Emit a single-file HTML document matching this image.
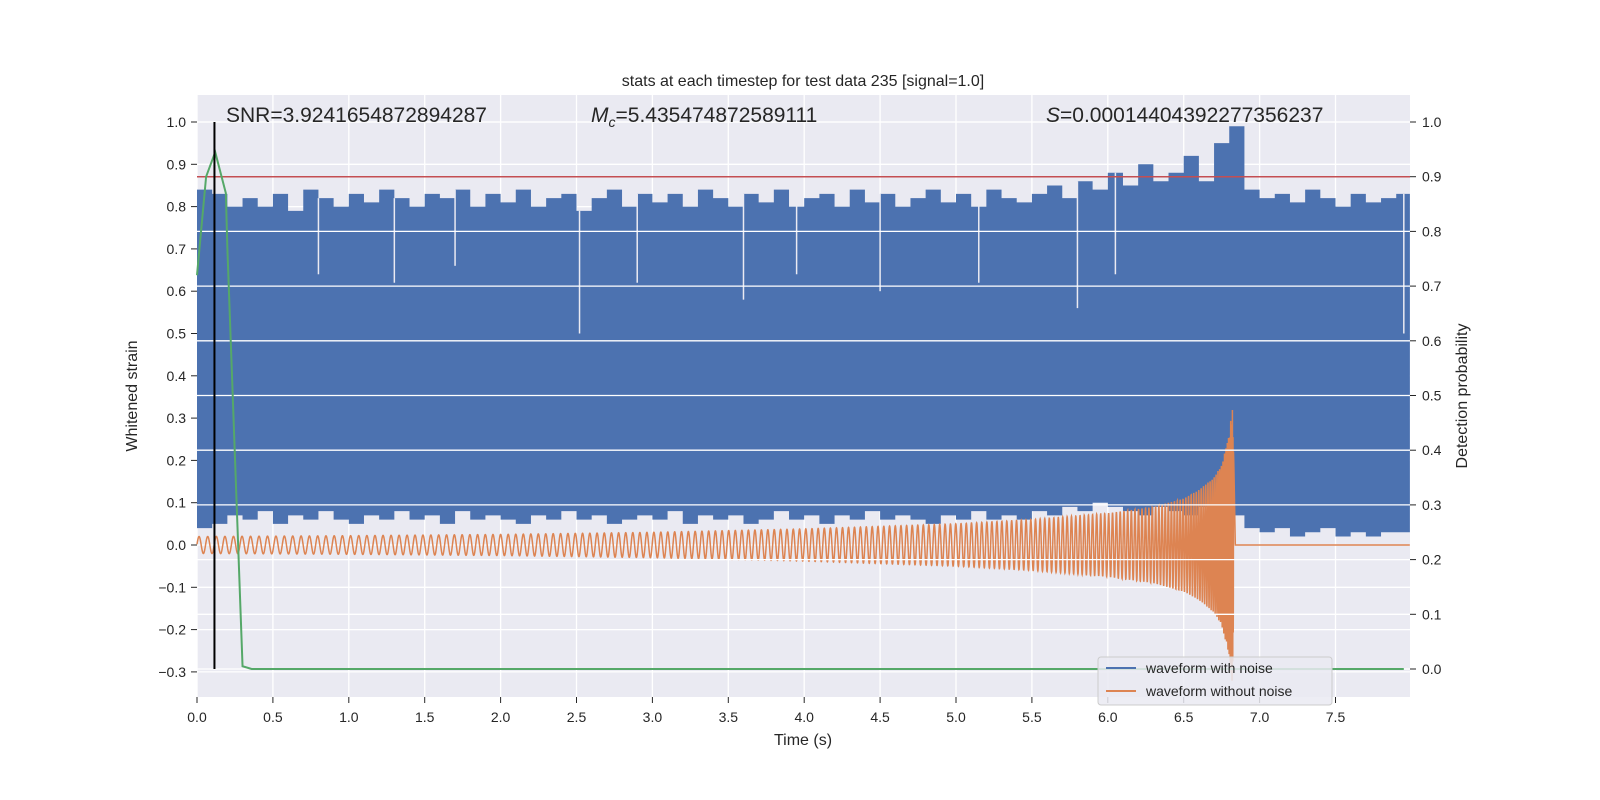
<!DOCTYPE html>
<html><head><meta charset="utf-8"><style>
body{margin:0;background:#fff;}
svg{display:block;font-family:"Liberation Sans","DejaVu Sans",sans-serif;}
</style></head><body>
<svg id="chart" width="1600" height="800" viewBox="0 0 1600 800">
<rect x="0" y="0" width="1600" height="800" fill="#fff"/>
<rect x="197" y="95" width="1213" height="602" fill="#eaeaf2"/>
<g id="gridL"></g><g id="blue"></g><g id="orange"></g><g id="gridR"></g><g id="others"></g><g id="axes"></g>
<text x="803" y="86" text-anchor="middle" font-size="16" fill="#262626">stats at each timestep for test data 235 [signal=1.0]</text>
<text x="226" y="122" font-size="21" fill="#262626">SNR=3.9241654872894287</text>
<text x="591" y="122" font-size="21" fill="#262626"><tspan font-style="italic">M</tspan><tspan font-style="italic" font-size="14" dy="5">c</tspan><tspan dy="-5">=5.435474872589111</tspan></text>
<text x="1046" y="122" font-size="21" fill="#262626"><tspan font-style="italic">S</tspan>=0.00014404392277356237</text>
<text x="803" y="745" text-anchor="middle" font-size="16" fill="#262626">Time (s)</text>
<text transform="translate(137,396) rotate(-90)" text-anchor="middle" font-size="16" fill="#262626">Whitened strain</text>
<text transform="translate(1467,396) rotate(-90)" text-anchor="middle" font-size="16" fill="#262626">Detection probability</text>
<g>
<rect x="1098" y="657" width="234" height="48" rx="3" fill="#eaeaf2" fill-opacity="0.85" stroke="#cccccc"/>
<line x1="1106" y1="668" x2="1136" y2="668" stroke="#4c72b0" stroke-width="2"/>
<text x="1146" y="673" font-size="14" fill="#262626">waveform with noise</text>
<line x1="1106" y1="691" x2="1136" y2="691" stroke="#dd8452" stroke-width="2"/>
<text x="1146" y="696" font-size="14" fill="#262626">waveform without noise</text>
</g>
</svg>
<script>
const xTicks=[0,0.5,1,1.5,2,2.5,3,3.5,4,4.5,5,5.5,6,6.5,7,7.5];
const yLeftTicks=[1.0,0.9,0.8,0.7,0.6,0.5,0.4,0.3,0.2,0.1,0.0,-0.1,-0.2,-0.3];
const yRightTicks=[0.0,0.1,0.2,0.3,0.4,0.5,0.6,0.7,0.8,0.9,1.0];
// noisy waveform envelope, one value per 0.1 s
const blueTop=[0.84,0.83,0.80,0.82,0.80,0.83,0.79,0.84,0.82,0.80,0.83,0.81,0.84,0.82,0.80,0.83,0.82,0.84,0.80,0.83,0.81,0.84,0.80,0.82,0.83,0.79,0.82,0.84,0.80,0.83,0.81,0.83,0.80,0.84,0.82,0.80,0.83,0.81,0.84,0.80,0.82,0.83,0.80,0.84,0.81,0.83,0.80,0.82,0.84,0.81,0.83,0.80,0.84,0.82,0.81,0.83,0.85,0.82,0.86,0.84,0.88,0.85,0.90,0.86,0.88,0.92,0.86,0.95,0.99,0.84,0.82,0.83,0.81,0.84,0.82,0.80,0.83,0.81,0.82,0.83];
const blueBottom=[0.04,0.05,0.07,0.06,0.08,0.05,0.07,0.06,0.08,0.06,0.05,0.07,0.06,0.08,0.06,0.07,0.05,0.08,0.06,0.07,0.06,0.05,0.07,0.06,0.08,0.06,0.07,0.05,0.06,0.07,0.06,0.08,0.05,0.07,0.06,0.07,0.05,0.06,0.08,0.06,0.07,0.05,0.07,0.06,0.08,0.06,0.07,0.06,0.05,0.07,0.06,0.08,0.06,0.07,0.06,0.08,0.07,0.09,0.08,0.10,0.09,0.08,0.07,0.09,0.08,0.07,0.09,0.08,0.07,0.04,0.03,0.04,0.02,0.03,0.04,0.02,0.03,0.02,0.03,0.03];
const blueDipT=[0.8,1.3,1.7,2.52,2.9,3.6,3.95,4.5,5.15,5.8,6.05,7.95];
const blueDipV=[0.64,0.62,0.66,0.50,0.62,0.58,0.64,0.60,0.62,0.56,0.64,0.50];
// clean waveform amplitude envelope
const orangeT=[0,1,2,3,4,5,5.5,6,6.3,6.5,6.6,6.7,6.75,6.8,6.82,6.83,6.84,7.99];
const orangeAmp=[0.02,0.022,0.025,0.03,0.038,0.05,0.06,0.075,0.09,0.11,0.13,0.16,0.19,0.26,0.33,0.2,0.0,0.0];
// detection probability
const greenT=[0,0.06,0.12,0.19,0.2,0.3,0.36,7.95];
const greenV=[0.72,0.9,0.945,0.87,0.77,0.005,0,0];
const threshold=0.9;
const markerT=0.115;

const NS="http://www.w3.org/2000/svg";
const X=t=>197+t*151.8, YL=v=>545-v*423, YR=v=>669-v*547;
function mk(tag,attrs,parent){const e=document.createElementNS(NS,tag);for(const k in attrs)e.setAttribute(k,attrs[k]);parent.appendChild(e);return e;}
function interp(ts,vs,t){if(t<=ts[0])return vs[0];for(let i=1;i<ts.length;i++){if(t<=ts[i]){const f=(t-ts[i-1])/(ts[i]-ts[i-1]);return vs[i-1]+f*(vs[i]-vs[i-1]);}}return vs[vs.length-1];}
const gL=document.getElementById('gridL'),gB=document.getElementById('blue'),gO=document.getElementById('orange'),gR=document.getElementById('gridR'),gX=document.getElementById('others'),gA=document.getElementById('axes');
const fmt=v=>(v<0?'\u2212':'')+Math.abs(v).toFixed(1);
xTicks.forEach(t=>{
 const l=mk('line',{x1:X(t),x2:X(t),y1:95,y2:697,stroke:'#fff','stroke-width':1.3},gL);
 
 
 const tk=mk('line',{x1:X(t),x2:X(t),y1:697,y2:703,stroke:'#262626','stroke-width':1},gA);
 
 
 const tx=mk('text',{x:X(t),y:722,'text-anchor':'middle','font-size':14,fill:'#262626'},gA);tx.textContent=t.toFixed(1);
 
 
});
yLeftTicks.forEach(v=>{
 const l=mk('line',{x1:197,x2:1410,y1:YL(v),y2:YL(v),stroke:'#fff','stroke-width':1.3},gL);
 
 
 const tk=mk('line',{x1:191,x2:197,y1:YL(v),y2:YL(v),stroke:'#262626','stroke-width':1},gA);
 
 
 const tx=mk('text',{x:186,y:YL(v)+5,'text-anchor':'end','font-size':14,fill:'#262626'},gA);tx.textContent=fmt(v);
 
 
});
yRightTicks.forEach(v=>{
 const l=mk('line',{x1:197,x2:1410,y1:YR(v),y2:YR(v),stroke:'#fff','stroke-width':1.3},gR);
 
 
 const tk=mk('line',{x1:1410,x2:1416,y1:YR(v),y2:YR(v),stroke:'#262626','stroke-width':1},gA);
 
 
 const tx=mk('text',{x:1422,y:YR(v)+5,'text-anchor':'start','font-size':14,fill:'#262626'},gA);tx.textContent=v.toFixed(1);
 
 
});
// blue noisy band (step per 0.1 s)
const bandTop=[],bandBot=[];
blueTop.forEach((v,i)=>{bandTop.push(X(i*0.1)+','+YL(v),X(Math.min((i+1)*0.1,7.99))+','+YL(v));});
blueBottom.forEach((v,i)=>{bandBot.push(X(i*0.1)+','+YL(v),X(Math.min((i+1)*0.1,7.99))+','+YL(v));});
const poly=mk('polygon',{points:bandTop.concat(bandBot.reverse()).join(' '),fill:'#4c72b0'},gB);


blueDipT.forEach((t,i)=>{
 const d=mk('line',{x1:X(t),x2:X(t),y1:YL(blueTop[Math.min(79,Math.floor(t*10))]),y2:YL(blueDipV[i]),stroke:'#eaeaf2','stroke-width':1.5},gB);
 
 
});
// orange chirp
const chirpPts=[];let ph=0;const tc=6.83;
for(let t=0;t<=7.99;t+=0.0008){
 const a=interp(orangeT,orangeAmp,t);
 const f=t<tc-0.002?17.5*Math.pow(1-t/tc,-0.375):0;ph+=2*Math.PI*f*0.0008;
 chirpPts.push(X(t).toFixed(2)+','+YL(a*Math.sin(ph)).toFixed(2));
}
const ol=mk('polyline',{points:chirpPts.join(' '),fill:'none',stroke:'#dd8452','stroke-width':1.5},gO);


// red threshold
const rl=mk('line',{x1:197,x2:1410,y1:YR(threshold),y2:YR(threshold),stroke:'#c44e52','stroke-width':1.5},gX);


// green
const gl=mk('polyline',{points:greenT.map((t,i)=>X(t)+','+YR(greenV[i])).join(' '),fill:'none',stroke:'#55a868','stroke-width':2},gX);


// black marker
const bl=mk('line',{x1:X(markerT),x2:X(markerT),y1:YR(1.0),y2:YR(0),stroke:'#000','stroke-width':2},gX);


</script>
</body></html>
